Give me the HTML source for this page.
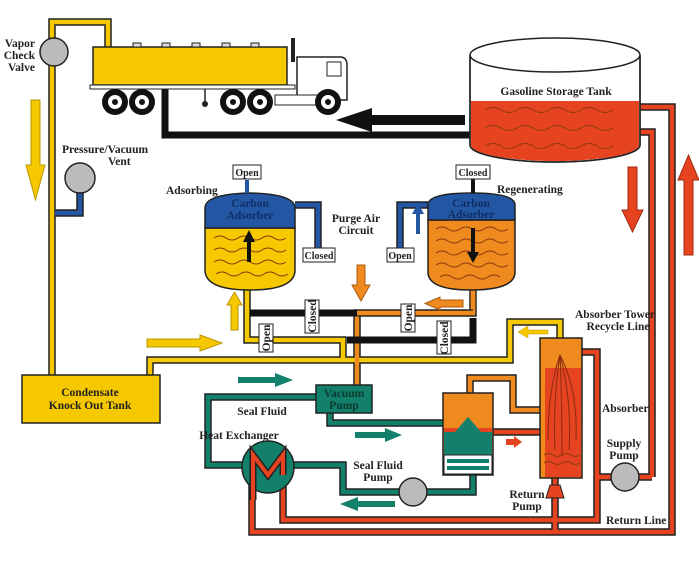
<!DOCTYPE html>
<html><head><meta charset="utf-8"><style>
html,body{margin:0;padding:0;background:#fff}
svg{display:block}
text{font-family:"Liberation Serif",serif;font-weight:bold;font-size:11.5px;fill:#222}
.o{fill:none;stroke:#222;stroke-width:7.5}
.y{fill:none;stroke:#f5c800;stroke-width:4.5}
.or{fill:none;stroke:#ef8a1e;stroke-width:4.5}
.r{fill:none;stroke:#e64420;stroke-width:4.5}
.b{fill:none;stroke:#2457a3;stroke-width:4.5}
.t{fill:none;stroke:#12806a;stroke-width:4.5}
.lb{fill:#fff;stroke:#222;stroke-width:1}
.wv{fill:none;stroke:#8a3a10;stroke-width:1}
</style></head><body>
<svg width="699" height="572" viewBox="0 0 699 572" xmlns="http://www.w3.org/2000/svg">
<defs>
<path id="pY1" d="M52,375 V22 H108 V47"/>
<path id="pBv" d="M80,192 V213 H55"/>
<path id="pY2" d="M150,375 V360 H510 V322 H560 V338"/>
<path id="pY3" d="M247,290 V340 H343 V358"/>
<path id="pOr1" d="M357,385 V313 H473 V290"/>
<path id="pR1" d="M640,107 H672 V532 H252 V470"/>
<path id="pR2" d="M640,132 H652 V477"/>
<path id="pR3" d="M582,352 H597 V520 H283 V475"/>
<path id="pR4" d="M597,477 H652"/>
<path id="pR5" d="M555,478 V532"/>
<path id="pR6" d="M493,432 H540"/>
<path id="pOr2" d="M470,393 V378 H513 V410 H540"/>
<path id="pT1" d="M316,397 H208 V465 H242"/>
<path id="pT2" d="M294,465 H343 V492 H473 V475"/>
<path id="pT3" d="M330,413 V423 H443"/>
<path id="pBl1" d="M295,205 H318 V248"/>
<path id="pBl2" d="M428,205 H400 V248"/>
</defs>
<g class="o">
<use href="#pY1"/><use href="#pBv"/><use href="#pY2"/><use href="#pY3"/><use href="#pOr1"/>
<use href="#pR1"/><use href="#pR2"/><use href="#pR3"/><use href="#pR4"/><use href="#pR5"/><use href="#pR6"/>
<use href="#pOr2"/><use href="#pT1"/><use href="#pT2"/><use href="#pT3"/><use href="#pBl1"/><use href="#pBl2"/>
</g>
<use href="#pY1" class="y"/><use href="#pY2" class="y"/><use href="#pY3" class="y"/>
<use href="#pBv" class="b"/><use href="#pBl1" class="b"/><use href="#pBl2" class="b"/>
<use href="#pOr1" class="or"/><use href="#pOr2" class="or"/>
<use href="#pR1" class="r"/><use href="#pR2" class="r"/><use href="#pR3" class="r"/><use href="#pR4" class="r"/><use href="#pR5" class="r"/><use href="#pR6" class="r"/>
<use href="#pT1" class="t"/><use href="#pT2" class="t"/><use href="#pT3" class="t"/>
<path d="M165,88 V135 H470" fill="none" stroke="#111" stroke-width="7"/>
<path d="M250,313 H357" fill="none" stroke="#111" stroke-width="7"/>
<path d="M347,340 H473 V318" fill="none" stroke="#111" stroke-width="7"/>
<path d="M473,290 V313" class="or"/>
<path d="M357,313 H473" fill="none" stroke="#222" stroke-width="7"/><path d="M357,313 H473" class="or"/>
<polygon points="465,115 372,115 372,108 336,120 372,132 372,125 465,125" fill="#111"/>
<!-- truck -->
<rect x="93" y="47" width="194" height="38" fill="#f5c800" stroke="#222" stroke-width="1.5"/>
<rect x="90" y="85" width="205" height="4" fill="#fff" stroke="#222"/>
<g fill="#ddd" stroke="#222"><rect x="133" y="43" width="8" height="4"/><rect x="162" y="43" width="8" height="4"/><rect x="192" y="43" width="8" height="4"/><rect x="222" y="43" width="8" height="4"/><rect x="251" y="43" width="8" height="4"/></g>
<rect x="291" y="38" width="4" height="24" fill="#222"/>
<path d="M297,57 H340 Q347,57 347,65 V100 H297 Z" fill="#fff" stroke="#222" stroke-width="1.5"/>
<rect x="327" y="62" width="14" height="14" fill="#fff" stroke="#222"/>
<rect x="275" y="95" width="45" height="10" fill="#fff" stroke="#222"/>
<line x1="205" y1="89" x2="205" y2="103" stroke="#222" stroke-width="1.5"/><circle cx="205" cy="104" r="3" fill="#222"/>
<g fill="#111"><circle cx="115" cy="102" r="13"/><circle cx="142" cy="102" r="13"/><circle cx="233" cy="102" r="13"/><circle cx="260" cy="102" r="13"/><circle cx="328" cy="102" r="13"/></g>
<g fill="#fff"><circle cx="115" cy="102" r="7"/><circle cx="142" cy="102" r="7"/><circle cx="233" cy="102" r="7"/><circle cx="260" cy="102" r="7"/><circle cx="328" cy="102" r="7"/></g>
<g fill="#111"><circle cx="115" cy="102" r="3"/><circle cx="142" cy="102" r="3"/><circle cx="233" cy="102" r="3"/><circle cx="260" cy="102" r="3"/><circle cx="328" cy="102" r="3"/></g>
<circle cx="54" cy="52" r="14" fill="#bbb" stroke="#222" stroke-width="1.5"/>
<circle cx="80" cy="178" r="15" fill="#bbb" stroke="#222" stroke-width="1.5"/>
<text x="35" y="47" text-anchor="end">Vapor</text><text x="35" y="59" text-anchor="end">Check</text><text x="35" y="71" text-anchor="end">Valve</text>
<text x="62" y="153">Pressure/Vacuum</text><text x="108" y="165">Vent</text>
<polygon points="31,100 40,100 40,165 45,165 35.5,200 26,165 31,165" fill="#f5c800" stroke="#b89500"/>
<!-- gasoline tank -->
<path d="M470,55 V145 A85,17 0 0 0 640,145 V55" fill="#fff" stroke="#222" stroke-width="1.5"/>
<path d="M471,101 H639 V145 A84,16 0 0 1 471,145 Z" fill="#e64420"/>
<path d="M470,55 V145 A85,17 0 0 0 640,145 V55" fill="none" stroke="#222" stroke-width="1.5"/>
<ellipse cx="555" cy="55" rx="85" ry="17" fill="#fff" stroke="#222" stroke-width="1.5"/>
<text x="556" y="95" text-anchor="middle">Gasoline Storage Tank</text>
<g class="wv"><path d="M485,110 q8,-5 16,0 t16,0 t16,0 t16,0 t16,0 t16,0 t16,0 t16,0"/><path d="M485,128 q8,-5 16,0 t16,0 t16,0 t16,0 t16,0 t16,0 t16,0 t16,0"/><path d="M485,146 q8,-5 16,0 t16,0 t16,0 t16,0 t16,0 t16,0 t16,0 t16,0"/></g>
<polygon points="628,167 637,167 637,210 643,210 632.5,232 622,210 628,210" fill="#e64420" stroke="#a02a10"/>
<polygon points="684,255 693,255 693,180 699,180 688.5,155 678,180 684,180" fill="#e64420" stroke="#a02a10"/>
<!-- left adsorber -->
<path d="M205,228 V270 Q205,290 250,290 Q295,290 295,270 V228 Z" fill="#f5c800" stroke="#222" stroke-width="1.5"/>
<path d="M205,228 V208 Q205,194 250,193 Q295,194 295,208 V228 Z" fill="#2457a3" stroke="#222" stroke-width="1.5"/>
<line x1="247" y1="193" x2="247" y2="180" stroke="#2457a3" stroke-width="4"/>
<text x="250" y="207" text-anchor="middle" style="fill:#0e2f66">Carbon</text><text x="250" y="219" text-anchor="middle" style="fill:#0e2f66">Adsorber</text>
<g class="wv"><path d="M214,238 q6,-4 12,0 t12,0 t12,0 t12,0 t12,0 t12,0"/><path d="M214,250 q6,-4 12,0 t12,0 t12,0 t12,0 t12,0 t12,0"/><path d="M214,262 q6,-4 12,0 t12,0 t12,0 t12,0 t12,0 t12,0"/><path d="M216,274 q6,-4 12,0 t12,0 t12,0 t12,0 t12,0 t12,0"/></g>
<rect x="247" y="240" width="4" height="22" fill="#111"/><polygon points="243,242 249,230 255,242" fill="#111"/>
<rect x="233" y="165" width="28" height="14" class="lb"/><text x="247" y="176" text-anchor="middle" style="font-size:10px">Open</text>
<rect x="303" y="248" width="32" height="14" class="lb"/><text x="319" y="259" text-anchor="middle" style="font-size:10px">Closed</text>
<text x="166" y="194">Adsorbing</text>
<!-- right adsorber -->
<path d="M428,220 V272 Q428,290 471,290 Q515,290 515,272 V220 Z" fill="#ef8a1e" stroke="#222" stroke-width="1.5"/>
<path d="M428,220 V205 Q428,193 471,193 Q515,193 515,205 V220 Z" fill="#2457a3" stroke="#222" stroke-width="1.5"/>
<line x1="473" y1="193" x2="473" y2="178" stroke="#111" stroke-width="4"/>
<text x="471" y="207" text-anchor="middle" style="fill:#0e2f66">Carbon</text><text x="471" y="218" text-anchor="middle" style="fill:#0e2f66">Adsorber</text>
<g class="wv"><path d="M436,229 q6,-4 12,0 t12,0 t12,0 t12,0 t12,0 t12,0"/><path d="M436,241 q6,-4 12,0 t12,0 t12,0 t12,0 t12,0 t12,0"/><path d="M436,253 q6,-4 12,0 t12,0 t12,0 t12,0 t12,0 t12,0"/><path d="M436,265 q6,-4 12,0 t12,0 t12,0 t12,0 t12,0 t12,0"/><path d="M440,277 q6,-4 12,0 t12,0 t12,0 t12,0 t12,0"/></g>
<rect x="471" y="228" width="4" height="26" fill="#111"/><polygon points="467,252 473,263 479,252" fill="#111"/>
<rect x="416" y="212" width="4" height="22" fill="#2457a3"/><polygon points="412,214 418,203 424,214" fill="#2457a3"/>
<rect x="456" y="165" width="34" height="14" class="lb"/><text x="473" y="176" text-anchor="middle" style="font-size:10px">Closed</text>
<rect x="387" y="248" width="27" height="14" class="lb"/><text x="400" y="259" text-anchor="middle" style="font-size:10px">Open</text>
<text x="497" y="193">Regenerating</text>
<text x="356" y="222" text-anchor="middle">Purge Air</text><text x="356" y="234" text-anchor="middle">Circuit</text>
<polygon points="357,265 365,265 365,285 370,285 361,301 352,285 357,285" fill="#ef8a1e" stroke="#a85a10"/>
<polygon points="463,300 463,307 440,307 440,310 425,303.5 440,297 440,300" fill="#ef8a1e" stroke="#a85a10"/>
<polygon points="231,330 238,330 238,305 242,305 234.5,292 227,305 231,305" fill="#f5c800" stroke="#b89500"/>
<polygon points="147,339 200,339 200,335 222,343 200,351 200,347 147,347" fill="#f5c800" stroke="#b89500"/>
<polygon points="238,377 275,377 275,373 293,380 275,387 275,383 238,383" fill="#12806a"/>
<polygon points="355,432 385,432 385,428 402,435 385,442 385,438 355,438" fill="#12806a"/>
<polygon points="395,501 358,501 358,497 340,504 358,511 358,507 395,507" fill="#12806a"/>
<polygon points="506,439 514,439 514,436 522,442 514,448 514,445 506,445" fill="#e64420"/>
<polygon points="548,330 528,330 528,326 518,332 528,338 528,334 548,334" fill="#f5c800" stroke="#b89500" stroke-width=".5"/>
<g style="font-size:10px">
<rect x="305" y="300" width="14" height="33" class="lb"/><text transform="translate(316,316) rotate(-90)" text-anchor="middle">Closed</text>
<rect x="259" y="324" width="14" height="28" class="lb"/><text transform="translate(270,338) rotate(-90)" text-anchor="middle">Open</text>
<rect x="401" y="304" width="14" height="28" class="lb"/><text transform="translate(412,318) rotate(-90)" text-anchor="middle">Open</text>
<rect x="437" y="321" width="14" height="33" class="lb"/><text transform="translate(448,338) rotate(-90)" text-anchor="middle">Closed</text>
</g>
<rect x="22" y="375" width="138" height="48" fill="#f5c800" stroke="#222" stroke-width="1.5"/>
<text x="90" y="396" text-anchor="middle">Condensate</text><text x="90" y="409" text-anchor="middle">Knock Out Tank</text>
<rect x="316" y="385" width="56" height="28" fill="#12806a" stroke="#222" stroke-width="1.5"/>
<text x="344" y="397" text-anchor="middle" style="fill:#0a3a2e">Vacuum</text><text x="344" y="409" text-anchor="middle" style="fill:#0a3a2e">Pump</text>
<text x="262" y="415" text-anchor="middle">Seal Fluid</text>
<text x="239" y="439" text-anchor="middle">Heat Exchanger</text>
<text x="378" y="469" text-anchor="middle">Seal Fluid</text><text x="378" y="481" text-anchor="middle">Pump</text>
<circle cx="268" cy="467" r="26" fill="#12806a" stroke="#222" stroke-width="1.5"/>
<path d="M253,500 V455 L268,475 L283,455 V475" fill="none" stroke="#222" stroke-width="7"/>
<path d="M253,500 V455 L268,475 L283,455 V475" fill="none" stroke="#e64420" stroke-width="4"/>
<circle cx="413" cy="492" r="14" fill="#bbb" stroke="#222" stroke-width="1.5"/>
<rect x="443" y="393" width="50" height="82" fill="#ef8a1e" stroke="#222" stroke-width="1.5"/>
<rect x="444" y="428" width="48" height="27" fill="#12806a"/>
<rect x="444" y="428" width="48" height="4" fill="#e64420"/>
<polygon points="455,432 468,417 481,432" fill="#12806a"/>
<rect x="444" y="455" width="48" height="19" fill="#fff" stroke="#222"/>
<rect x="447" y="459" width="42" height="4" fill="#12806a"/><rect x="447" y="466" width="42" height="4" fill="#12806a"/>
<rect x="540" y="338" width="42" height="140" fill="#ef8a1e" stroke="#222" stroke-width="1.5"/>
<rect x="545" y="368" width="36" height="109" fill="#e64420"/>
<g fill="none" stroke="#8a2a10" stroke-width="1"><path d="M548,440 Q548,390 560,355"/><path d="M555,450 Q553,400 560,355"/><path d="M562,455 Q562,400 560,355"/><path d="M569,450 Q572,400 560,355"/><path d="M576,440 Q578,390 560,355"/></g>
<g class="wv"><path d="M544,455 q5,-3 9,0 t9,0 t9,0 t9,0"/><path d="M544,463 q5,-3 9,0 t9,0 t9,0 t9,0"/></g>
<polygon points="550,485 560,485 564,498 546,498" fill="#e64420" stroke="#222"/>
<circle cx="625" cy="477" r="14" fill="#bbb" stroke="#222" stroke-width="1.5"/>
<text x="615" y="318" text-anchor="middle">Absorber Tower</text><text x="618" y="330" text-anchor="middle">Recycle Line</text>
<text x="602" y="412">Absorber</text>
<text x="624" y="447" text-anchor="middle">Supply</text><text x="624" y="459" text-anchor="middle">Pump</text>
<text x="527" y="498" text-anchor="middle">Return</text><text x="527" y="510" text-anchor="middle">Pump</text>
<text x="606" y="524">Return Line</text>
</svg>
</body></html>
